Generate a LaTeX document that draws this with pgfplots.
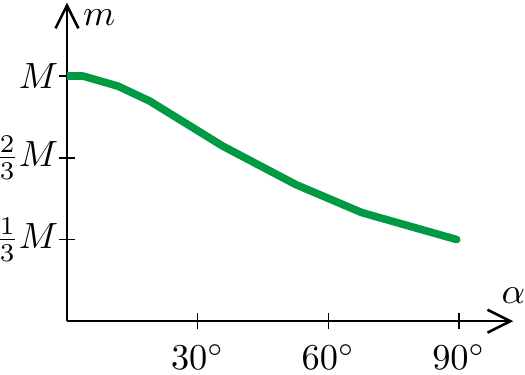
\documentclass[border=0pt]{standalone}
\usepackage{pgfplots}
\pgfplotsset{compat=1.18}
\usetikzlibrary{arrows.meta}
\definecolor{curvegreen}{RGB}{0,153,68}
\begin{document}
\begin{tikzpicture}
\begin{axis}[
  x=1.1943pt, y=67.23pt,
  xmin=0, xmax=102.5, ymin=0, ymax=1.3,
  axis lines=middle,
  axis line style={line width=0.7pt, -{Straight Barb[length=6.3pt,width=6.3pt]}},
  xtick={0,30,60,90},
  xticklabels={,$30^\circ$,$60^\circ$,$90^\circ$},
  ytick={0.33333,0.66667,1},
  yticklabels={$\kern-1.2pt\frac{1}{3}M$,$\kern-1.2pt\frac{2}{3}M$,$M$},
  tick align=center,
  major tick length=4.4pt,
  every tick/.style={black, line width=0.4pt},
  xticklabel style={inner sep=0pt, anchor=north, yshift=-3.9pt, text depth=1.45pt},
  yticklabel style={inner sep=0pt, anchor=east, xshift=0pt},
  xlabel={$\alpha$}, ylabel={$m$},
  xlabel style={at={(axis cs:102.5,0)}, anchor=south, inner sep=0pt, yshift=4.65pt},
  ylabel style={at={(axis cs:0,1.238)}, anchor=west, inner sep=0pt, xshift=4.2pt},
]
\addplot[curvegreen, line width=2.1pt, line cap=round, line join=round] coordinates {
  (0,1.0) (3.7,1.0) (11.7,0.959) (19,0.898) (35.7,0.715) (52.6,0.557) (67.7,0.443) (89.5,0.333)
};
\end{axis}
\end{tikzpicture}
\end{document}
